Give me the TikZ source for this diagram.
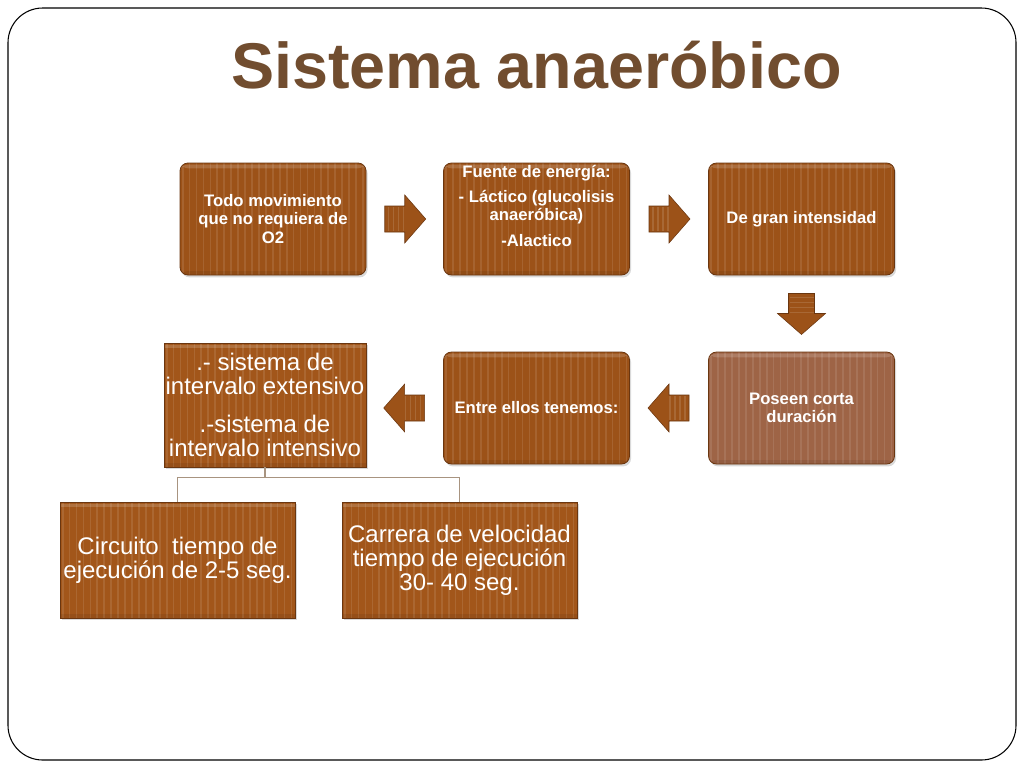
\documentclass[tikz,border=0pt]{standalone}
\usepackage{fontspec}
\setmainfont{Liberation Sans}
\usetikzlibrary{calc,shadows}
\definecolor{titlebrown}{HTML}{714D2F}
\definecolor{boxA}{HTML}{9C5218}
\definecolor{boxB}{HTML}{9E6446}
\definecolor{boxC}{HTML}{A2561A}
\definecolor{edgeA}{HTML}{6A3610}
\definecolor{connc}{HTML}{A89480}
\tikzset{
  x=0.75pt, y=-0.75pt,
  stripes/.style={path picture={
      \fill[white,opacity=0.16] ([yshift=-1.2pt]path picture bounding box.north west) rectangle ([yshift=-4pt]path picture bounding box.north east);
      \foreach \k in {0,...,36}{
        \draw[white,opacity=0.10,line width=1.3pt]
          ([xshift=\k*5.2pt+2pt]path picture bounding box.north west) --
          ([xshift=\k*5.2pt+2pt]path picture bounding box.south west);}
      \fill[black,opacity=0.07] ([yshift=3pt]path picture bounding box.south west) rectangle (path picture bounding box.south east);
  }},
  flowbox/.style={draw=edgeA, line width=0.6pt, fill=boxA, rounded corners=6pt,
      minimum width=139.5pt, minimum height=84pt, inner sep=2pt, align=center,
      text=white, font=\fontsize{12.5}{14}\selectfont\bfseries, stripes,
      drop shadow={opacity=0.3, shadow xshift=1.2pt, shadow yshift=-1.8pt}},
  boxtext/.style={inner sep=0pt, align=center, text=white,
      font=\fontsize{12.5}{13}\selectfont\bfseries},
  listbox/.style={draw=edgeA, line width=0.5pt, fill=boxC,
      inner sep=1pt, align=center, text=white,
      font=\fontsize{18}{18}\selectfont, stripes,
      drop shadow={opacity=0.3, shadow xshift=1.2pt, shadow yshift=-1.8pt}},
  blockarrow/.style={fill=boxA, draw=edgeA, line width=0.4pt},
  conn/.style={draw=connc, line width=1pt},
}
\begin{document}
\begin{tikzpicture}
\useasboundingbox (0,0) rectangle (1024,768);
\draw[line width=0.8pt, rounded corners=26pt] (8,8) rectangle (1016,760);

\node[anchor=base, text=titlebrown, font=\fontsize{48.5}{56}\selectfont\bfseries] (title) at (536.5,88) {Sistema anaeróbico};

\node[flowbox] (b1) at (273,219) {Todo movimiento\\ que no requiera de\\ O2};
\node[flowbox] (b2) at (536.5,219) {};
\node[boxtext, anchor=north] (b2t) at (536.5,165) {Fuente de energía:\\[6pt] - Láctico (glucolisis\\ anaeróbica)\\[7pt] -Alactico};
\node[flowbox] (b3) at (801.5,219) {De gran intensidad};
\node[flowbox, fill=boxB] (b4) at (801.5,408) {Poseen corta\\ duración};
\node[flowbox] (b5) at (536.5,408) {Entre ellos tenemos:};
\node[listbox, minimum width=151.5pt, minimum height=93pt] (b6) at (265,405) {.- sistema de\\ intervalo extensivo\\[10pt] .-sistema de\\ intervalo intensivo};
\node[listbox, minimum width=176.25pt, minimum height=87pt] (b7) at (177.5,560) {Circuito\ \ tiempo de\\ ejecución de 2-5 seg.};
\node[listbox, minimum width=176.25pt, minimum height=87pt] (b8) at (459.5,560) {Carrera de velocidad\\ tiempo de ejecución\\ 30- 40 seg.};

% block arrows between boxes
\coordinate (a1) at ($(b1.east)!0.5!(b2.west)$);
\coordinate (a2) at ($(b2.east)!0.5!(b3.west)$);
\coordinate (a3) at ($(b3.south)!0.5!(b4.north)$);
\coordinate (a4) at ($(b4.west)!0.5!(b5.east)$);
\coordinate (a5) at ($(b5.west)!0.5!(b6.east |- b5.west)$);
\foreach \c/\r in {a1/0, a2/0, a3/-90, a4/180, a5/180}{
  \draw[blockarrow, shift={(\c)}, rotate=\r]
    (-20,-13) -- (0,-13) -- (0,-24) -- (21,0) -- (0,24) -- (0,13) -- (-20,13) -- cycle;
  \foreach \k in {-16,-11,-6,-1}{
    \draw[white, opacity=0.13, line width=1pt, shift={(\c)}, rotate=\r] (\k,-12) -- (\k,12);}
}

% tree connector
\coordinate (j) at ($(b6.south)+(0,10)$);
\draw[conn] (b6.south) -- (j);
\draw[conn] (b7.north) |- (j) -| (b8.north);
\end{tikzpicture}
\end{document}
